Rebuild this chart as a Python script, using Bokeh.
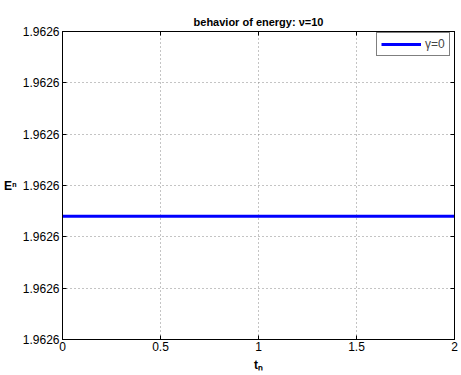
from bokeh.plotting import figure
from bokeh.models import Range1d, FixedTicker, PrintfTickFormatter, Legend, LegendItem, LinearAxis
from bokeh.embed import file_html
from bokeh.resources import INLINE

t_vals = [0.0, 0.5, 1.0, 1.5, 2.0]
energy = [1.9626148, 1.9626148, 1.9626148, 1.9626148, 1.9626148]
x_ticks = [0, 0.5, 1, 1.5, 2]
y_ticks = [1.962610, 1.962612, 1.962614, 1.962616, 1.962618, 1.962620, 1.962622]
title_text = "behavior of energy: \u03bd=10"
legend_text = "\u03b3=0"
x_label = "t\u2099"
y_label = "E\u207f"

FONT = "Liberation Sans"

p = figure(width=460, height=374, output_backend="svg", toolbar_location=None,
           x_range=Range1d(0, 2), y_range=Range1d(y_ticks[0], y_ticks[-1]),
           min_border_left=62, min_border_right=6, min_border_top=31, min_border_bottom=32)

r = p.line(t_vals, energy, line_color="#0000ff", line_width=3)

p.title.text = title_text
p.title.align = "center"
p.title.text_font = FONT
p.title.text_font_size = "11px"
p.title.text_font_style = "bold"
p.title.text_color = "black"
p.title.standoff = 7

for ax in (p.xaxis[0], p.yaxis[0]):
    ax.major_label_text_font = FONT
    ax.major_label_text_font_size = "12px"
    ax.major_label_text_color = "black"
    ax.major_tick_in = 4
    ax.major_tick_out = 0
    ax.minor_tick_line_color = None
    ax.axis_line_color = "black"
    ax.major_tick_line_color = "black"
    ax.axis_label_text_font = FONT
    ax.axis_label_text_font_size = "12px"
    ax.axis_label_text_font_style = "bold"
    ax.axis_label_text_color = "black"

p.xaxis.axis_label = x_label
p.yaxis.axis_label = y_label
p.yaxis.axis_label_orientation = "horizontal"
p.xaxis.axis_label_standoff = 4
p.yaxis.axis_label_standoff = 3

p.xaxis.ticker = FixedTicker(ticks=x_ticks)
p.yaxis.ticker = FixedTicker(ticks=y_ticks)
p.yaxis.formatter = PrintfTickFormatter(format="%.4f")
p.xaxis.major_label_standoff = 2
p.yaxis.major_label_standoff = 3

top = LinearAxis(ticker=FixedTicker(ticks=x_ticks),
                 major_label_overrides={t: "" for t in x_ticks},
                 major_tick_in=4, major_tick_out=0, minor_tick_line_color=None,
                 major_label_standoff=0)
right = LinearAxis(ticker=FixedTicker(ticks=y_ticks),
                   major_label_overrides={t: "" for t in y_ticks},
                   major_tick_in=4, major_tick_out=0, minor_tick_line_color=None,
                   major_label_standoff=0)
p.add_layout(top, "above")
p.add_layout(right, "right")

p.xgrid.ticker = FixedTicker(ticks=x_ticks)
p.ygrid.ticker = FixedTicker(ticks=y_ticks)
p.grid.grid_line_color = "#888888"
p.grid.grid_line_dash = "1 3"
p.grid.grid_line_width = 1

p.outline_line_color = "black"
p.background_fill_color = "white"
p.border_fill_color = "white"

legend = Legend(items=[LegendItem(label=legend_text, renderers=[r])], location=(314, 283),
                border_line_color="black", border_line_width=1, background_fill_alpha=1,
                label_text_font=FONT, label_text_font_size="12px", glyph_width=40,
                margin=0, padding=4, spacing=0, label_standoff=4, label_height=12, glyph_height=12)
p.add_layout(legend)

open("out.html", "w").write(file_html(p, INLINE))
